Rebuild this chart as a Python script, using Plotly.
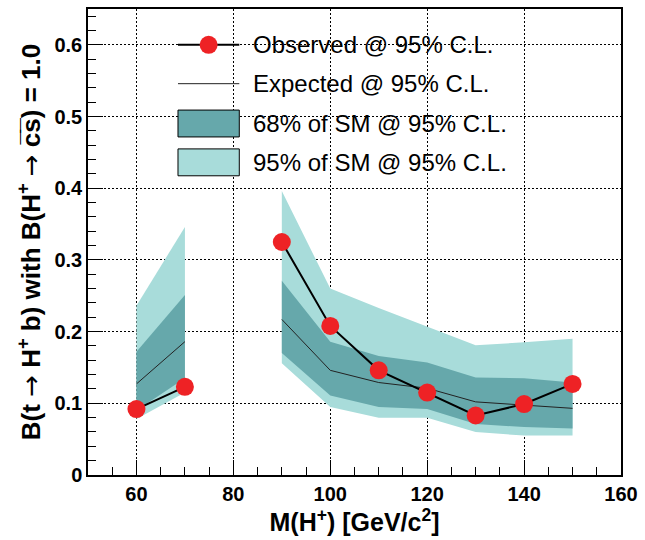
import plotly.graph_objects as go

# Charged Higgs search: upper limits on B(t -> H+ b) vs M(H+)
mass = [60, 70, 90, 100, 110, 120, 130, 140, 150]
observed = [0.092, 0.123, 0.325, 0.208, 0.146, 0.115, 0.083, 0.099, 0.127]
expected = [0.127, 0.186, 0.217, 0.146, 0.129, 0.121, 0.102, 0.098, 0.093]
band68_hi = [0.172, 0.251, 0.271, 0.186, 0.166, 0.157, 0.136, 0.135, 0.129]
band68_lo = [0.090, 0.135, 0.170, 0.111, 0.095, 0.092, 0.071, 0.067, 0.065]
band95_hi = [0.236, 0.346, 0.396, 0.260, 0.233, 0.207, 0.181, 0.185, 0.190]
band95_lo = [0.078, 0.115, 0.156, 0.095, 0.080, 0.080, 0.060, 0.055, 0.055]

x_ticks = [60, 80, 100, 120, 140, 160]
y_ticks = [0, 0.1, 0.2, 0.3, 0.4, 0.5, 0.6]
y_ticktext = ["0", "0.1", "0.2", "0.3", "0.4", "0.5", "0.6"]

legend_labels = [
    "Observed @ 95% C.L.",
    "Expected @ 95% C.L.",
    "68% of SM @ 95% C.L.",
    "95% of SM @ 95% C.L.",
]

LIGHT = "#a8dcda"
DARK = "#66a8ab"
RED = "#ee2225"
FONT = "Liberation Sans"
ARROW = "<span style=\"font-family:'DejaVu Sans';font-weight:normal\">\u2192</span>"


def segments(xs):
    """Split mass points into contiguous runs (the scan has a gap at 80 GeV)."""
    runs, start = [], 0
    for i in range(1, len(xs)):
        if xs[i] - xs[i - 1] > 10:
            runs.append((start, i))
            start = i
    runs.append((start, len(xs)))
    return runs


def with_gaps(xs, ys):
    ox, oy = [], []
    for a, b in segments(xs):
        ox += xs[a:b] + [None]
        oy += ys[a:b] + [None]
    return ox[:-1], oy[:-1]


fig = go.Figure()

# uncertainty bands, drawn as closed polygons per segment
for hi, lo, col in [(band95_hi, band95_lo, LIGHT), (band68_hi, band68_lo, DARK)]:
    for a, b in segments(mass):
        xs = mass[a:b]
        fig.add_trace(go.Scatter(
            x=xs + xs[::-1], y=hi[a:b] + lo[a:b][::-1],
            fill="toself", fillcolor=col, mode="lines",
            line=dict(width=0), hoverinfo="skip", showlegend=False))

ex, ey = with_gaps(mass, expected)
fig.add_trace(go.Scatter(x=ex, y=ey, mode="lines",
                         line=dict(color="#222222", width=1),
                         connectgaps=False, showlegend=False))

ox, oy = with_gaps(mass, observed)
fig.add_trace(go.Scatter(x=ox, y=oy, mode="lines+markers",
                         line=dict(color="black", width=2),
                         marker=dict(color=RED, size=18, line=dict(width=0)),
                         connectgaps=False, showlegend=False))

# hand-built legend (paper coordinates)
L, T, B = 88, 7, 475
W, H = 627 - L, B - T


def px(v):
    return (v - L) / W


def py(v):
    return (B - v) / H


rows = [43, 82, 122, 161]
sx0, sx1, tx = 179, 241, 253
shapes = []
shapes.append(dict(type="line", xref="paper", yref="paper",
                   x0=px(sx0), x1=px(sx1), y0=py(rows[0]), y1=py(rows[0]),
                   line=dict(color="black", width=2)))
shapes.append(dict(type="circle", xref="paper", yref="paper",
                   xsizemode="pixel", ysizemode="pixel",
                   xanchor=px((sx0 + sx1) / 2), yanchor=py(rows[0]),
                   x0=-9, x1=9, y0=-9, y1=9,
                   fillcolor=RED, line=dict(width=0)))
shapes.append(dict(type="line", xref="paper", yref="paper",
                   x0=px(sx0), x1=px(sx1), y0=py(rows[1]), y1=py(rows[1]),
                   line=dict(color="#222222", width=1)))
for r, col in [(rows[2], DARK), (rows[3], LIGHT)]:
    shapes.append(dict(type="rect", xref="paper", yref="paper",
                       x0=px(sx0), x1=px(sx1), y0=py(r - 13.5), y1=py(r + 13.5),
                       fillcolor=col, line=dict(color="black", width=1)))

annotations = [
    dict(xref="paper", yref="paper", x=px(tx), y=py(r), text=t,
         xanchor="left", yanchor="middle", showarrow=False,
         font=dict(family=FONT, size=24, color="black"))
    for r, t in zip(rows, legend_labels)
]

axis_common = dict(
    showline=True, linecolor="black", linewidth=1.5, mirror=True,
    ticks="inside", ticklen=15, tickwidth=1, tickcolor="black",
    showgrid=True, gridcolor="black", gridwidth=1, griddash="2px,2px",
    zeroline=False,
    tickfont=dict(family=FONT, size=20, color="black", weight="bold"),
)

fig.update_layout(
    width=645, height=540,
    margin=dict(l=L, r=645 - 627, t=T, b=540 - B),
    plot_bgcolor="white", paper_bgcolor="white",
    shapes=shapes, annotations=annotations,
    xaxis=dict(
        range=[50, 160], tickvals=x_ticks,
        minor=dict(dtick=5, tick0=0, ticks="inside", ticklen=8,
                   tickcolor="black", showgrid=False),
        title=dict(text="M(H<sup>+</sup>) [GeV/c<sup>2</sup>]", standoff=4,
                   font=dict(family=FONT, size=25, color="black", weight="bold")),
        **axis_common),
    yaxis=dict(
        range=[0, 0.65], tickvals=y_ticks, ticktext=y_ticktext,
        minor=dict(dtick=0.02, tick0=0, ticks="inside", ticklen=8,
                   tickcolor="black", showgrid=False),
        title=dict(text="B(t " + ARROW + " H<sup>+</sup> b) with B(H<sup>+</sup> "
                        + ARROW + " c\u0305s\u0305) = 1.0",
                   standoff=6,
                   font=dict(family=FONT, size=26, color="black", weight="bold")),
        **axis_common),
)

fig.write_html("out.html")
